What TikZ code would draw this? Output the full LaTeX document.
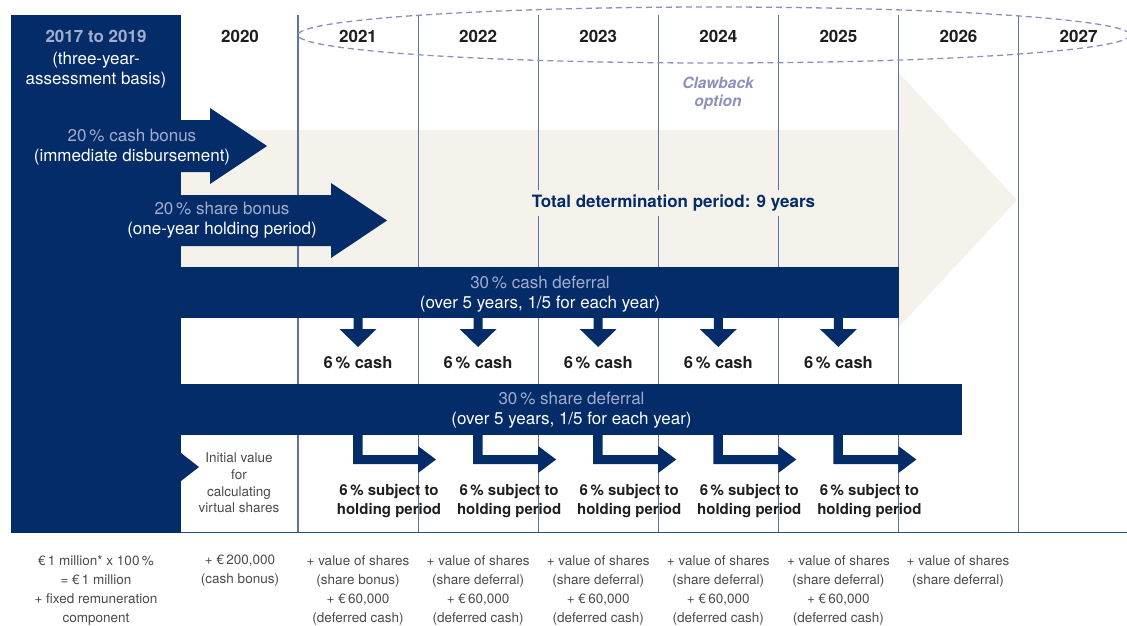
\documentclass[tikz,border=0pt]{standalone}
\usepackage{fontspec}
\setmainfont{TeX Gyre Heros}
\usetikzlibrary{calc}
\definecolor{navy}{HTML}{032C68}
\definecolor{sand}{HTML}{F5F2EB}
\definecolor{rulecol}{HTML}{5A74A2}
\definecolor{pale}{HTML}{A3ADD0}
\definecolor{claw}{HTML}{8C91BC}
\definecolor{ink}{HTML}{1E1E1E}
\definecolor{note}{HTML}{4A4A4A}

\begin{document}
\begin{tikzpicture}[x=1pt, y=-1pt,
            year/.style={font=\fontsize{17}{20}\selectfont\bfseries, text=ink, inner sep=0pt},
            bar/.style={fill=navy},
            bartext/.style={align=center, font=\fontsize{17}{20}\selectfont, text=white, inner sep=0pt},
            part/.style={align=center, font=\fontsize{16.5}{19}\selectfont\bfseries, text=ink, inner sep=0pt},
            small/.style={align=center, font=\fontsize{13.5}{19}\selectfont, text=note, inner sep=0pt},
            colline/.style={draw=rulecol, line width=1.2pt}
        ]
        \useasboundingbox (0,0) rectangle (1127,626);

        % total determination period (background arrow)
        \fill[sand] (181,130) -- (899,130) -- (899,73) -- (1017,200)
            -- (899,327) -- (899,267) -- (181,267) -- cycle;

        \foreach \i in {0,...,6}
            \draw[colline] ({298+120.1*\i},15) -- ({298+120.1*\i},533);

        % clawback period
        \draw[draw=claw, line width=1.3pt, dash pattern=on 6pt off 4pt]
            (714,35) ellipse[x radius=416, y radius=28];

        \fill[bar] (11,15) rectangle (181,533);

        \fill[bar] (181,120) -- (210,120) -- (210,108) -- (267,146)
            -- (210,184) -- (210,172) -- (181,172) -- cycle;
        \fill[bar] (181,195) -- (331,195) -- (331,183) -- (387,220.5)
            -- (331,258) -- (331,246) -- (181,246) -- cycle;

        \fill[bar] (181,267) rectangle (899,318);
        \fill[bar] (181,384) rectangle (962,435);

        \foreach \i in {0,...,4} {
            \pgfmathsetmacro{\cx}{358+120.1*\i}
            \fill[bar] (\cx-4.5,318) -- (\cx-4.5,329) -- (\cx-18.5,329) -- (\cx,347)
                -- (\cx+18.5,329) -- (\cx+4.5,329) -- (\cx+4.5,318) -- cycle;
            \fill[bar] (\cx-5,435) -- (\cx-5,464) -- (\cx+60,464) -- (\cx+60,473)
                -- (\cx+78,459.5) -- (\cx+60,446) -- (\cx+60,455) -- (\cx+4.5,455)
                -- (\cx+4.5,435) -- cycle;
            \node[part] (cash\i) at (\cx,363) {6\,\% cash};
            \node[part, font=\fontsize{15}{19}\selectfont\bfseries] (hold\i) at (\cx+31,501)
                {6\,\% subject to\\holding period};
        }

        \fill[bar] (181,453) -- (199,467) -- (181,481) -- cycle;

        \draw[draw=navy!85!white, line width=1.2pt] (181,532.5) -- (1127,532.5);

        % header
        \node[year, text=pale] (base) at (96,36) {2017 to 2019};
        \node[bartext] (basis) at (96,70) {(three-year-\\assessment basis)};
        \node[year] (y2020) at (240,36) {2020};
        \foreach \yr [count=\i from 0] in {2021,...,2027}
            \node[year] (y\yr) at ({358+120.1*\i},36) {\yr};

        \node[align=center, font=\fontsize{15.5}{18}\selectfont\bfseries\itshape, text=claw, inner sep=0pt]
            (claw) at (718,93) {Clawback\\option};
        \node[font=\fontsize{17}{20}\selectfont\bfseries, text=navy, fill=sand, inner xsep=2pt, inner ysep=5pt]
            (total) at (673.5,203) {Total determination period: 9 years};

        \node[bartext] (cbonus) at (132,147) {\textcolor{pale}{20\,\% cash bonus}\\(immediate disbursement)};
        \node[bartext] (sbonus) at (222,220) {\textcolor{pale}{20\,\% share bonus}\\(one-year holding period)};
        \node[bartext] (cdef) at (540,294) {\textcolor{pale}{30\,\% cash deferral}\\(over 5 years, 1/5 for each year)};
        \node[bartext] (sdef) at (571.5,410) {\textcolor{pale}{30\,\% share deferral}\\(over 5 years, 1/5 for each year)};

        \node[small, font=\fontsize{13.5}{16.7}\selectfont] (init) at (239,483)
            {Initial value\\for\\calculating\\virtual shares};

        % amounts paid per year
        \node[small, anchor=north] (amt0) at (96,555)
            {€\,1 million* x 100\,\%\\= €\,1 million\\+ fixed remuneration\\component};
        \node[small, anchor=north] (amt1) at (240,555) {+ €\,200,000\\(cash bonus)};
        \node[small, anchor=north] (amt2) at (358,555)
            {+ value of shares\\(share bonus)\\+ €\,60,000\\(deferred cash)};
        \foreach \i in {1,...,4}
            \node[small, anchor=north] (amt\i x) at ({358+120.1*\i},555)
                {+ value of shares\\(share deferral)\\+ €\,60,000\\(deferred cash)};
        \node[small, anchor=north] (amt8) at (958,555) {+ value of shares\\(share deferral)};
    \end{tikzpicture}
\end{document}
